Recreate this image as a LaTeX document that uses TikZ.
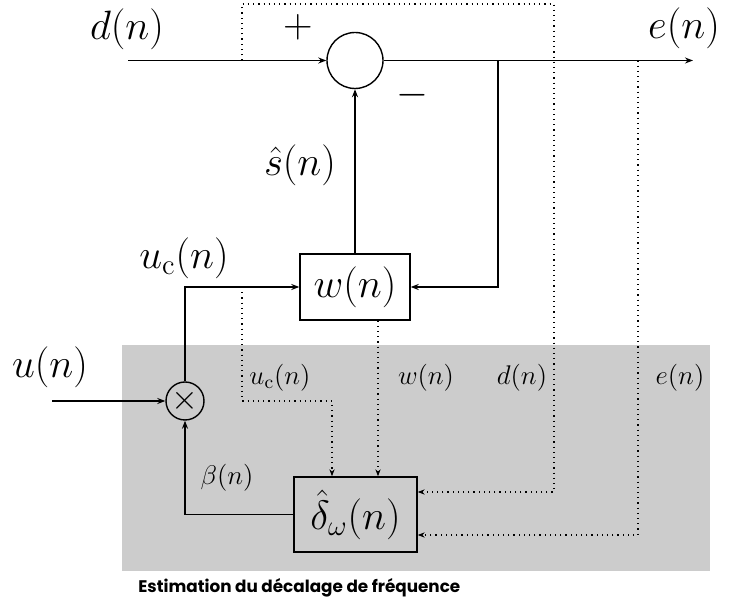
\RequirePackage{fix-cm}
\documentclass[tikz,border=0pt]{standalone}
\usepackage{amsmath}
\usepackage{fontspec}
\newfontfamily\capfont{Poppins}
\usepackage{tikz}
\usetikzlibrary{arrows.meta}
\tikzset{
  sigarr/.style    = {-{Stealth[length=4pt,width=3pt]},line width=0.7pt},
  probearr/.style  = {-{Stealth[length=3.5pt,width=2.6pt]},dotted,line width=0.6pt},
  blockbox/.style  = {draw,line width=0.7pt,inner sep=0pt},
  biglabel/.style  = {font=\fontsize{20.5}{24}\selectfont},
  smalllabel/.style= {font=\fontsize{13.5}{15}\selectfont}
}

\begin{document}
\begin{tikzpicture}[x=0.5pt,y=-0.5pt]
  \useasboundingbox (0,0) rectangle (729,603);
  \fill[gray!40] (122,345) rectangle (710,571);
  \node[blockbox,circle,minimum size=19pt] (mult) at (185,401)  {\LARGE$\times$};
  \node[blockbox,circle,minimum size=28pt] (sum)  at (355,60.5) {};
  \node[blockbox,minimum width=55pt,minimum height=33pt,biglabel]     (filt) at (355,287)   {$w(n)$};
  \node[blockbox,minimum width=61.5pt,minimum height=37.5pt,biglabel] (est)  at (355.5,514.5) {$\hat{\delta}_{\omega}(n)$};
  \coordinate (din)     at (128,60.5);
  \coordinate (eout)    at (693,60.5);
  \coordinate (fb)      at (498,60.5);
  \coordinate (uin)     at (52,401);
  \coordinate (ucTap)   at (242,287);
  \coordinate (ucBend)  at (332,401);
  \coordinate (dTap)    at (242,60.5);
  \coordinate (dTop)    at (242,4);
  \coordinate (dCorner) at (554,492);
  \coordinate (eTap)    at (638,60.5);
  \coordinate (eCorner) at (638,535);
  \draw[sigarr] (din) -- (sum.west);
  \draw[sigarr] (sum.east) -- (eout);
  \draw[sigarr] (fb) |- (filt.east);
  \draw[sigarr] (filt.north) -- (sum.south);
  \draw[sigarr] (mult.north) |- (filt.west);
  \draw[sigarr] (uin) -- (mult.west);
  \draw[sigarr] (est.west) -| (mult.south);
  \draw[probearr] (ucTap) |- (ucBend) -- (ucBend |- est.north);
  \draw[probearr] ([xshift=11.5pt]filt.south) -- ([xshift=11.5pt]filt.south |- est.north);
  \draw[probearr] (dTap) -- (dTop) -| (dCorner) -- (dCorner -| est.east);
  \draw[probearr] (eTap) -- (eCorner) -- (eCorner -| est.east);
  \node[biglabel] (dlab)  at (127,29)  {$d(n)$};
  \node[biglabel] (elab)  at (684,28)  {$e(n)$};
  \node[biglabel] (plus)  at (298,27)  {$+$};
  \node[biglabel] (minus) at (412,95)  {$-$};
  \node[biglabel] (shat)  at (300,165) {$\hat{s}(n)$};
  \node[biglabel] (uclab) at (184,258) {$u_{\mathrm{c}}(n)$};
  \node[biglabel] (ulab)  at (50,367)  {$u(n)$};
  \node[smalllabel] (ucsig)   at (280,378) {$u_{\mathrm{c}}(n)$};
  \node[smalllabel] (wsig)    at (426,378) {$w(n)$};
  \node[smalllabel] (dsig)    at (522,378) {$d(n)$};
  \node[smalllabel] (esig)    at (680,378) {$e(n)$};
  \node[smalllabel] (betasig) at (227,478) {$\beta(n)$};
  \node[anchor=base west,inner sep=0pt,font=\capfont\bfseries\fontsize{8.4}{10}\selectfont] (title) at (138,593) {Estimation du décalage de fréquence};
\end{tikzpicture}
\end{document}
